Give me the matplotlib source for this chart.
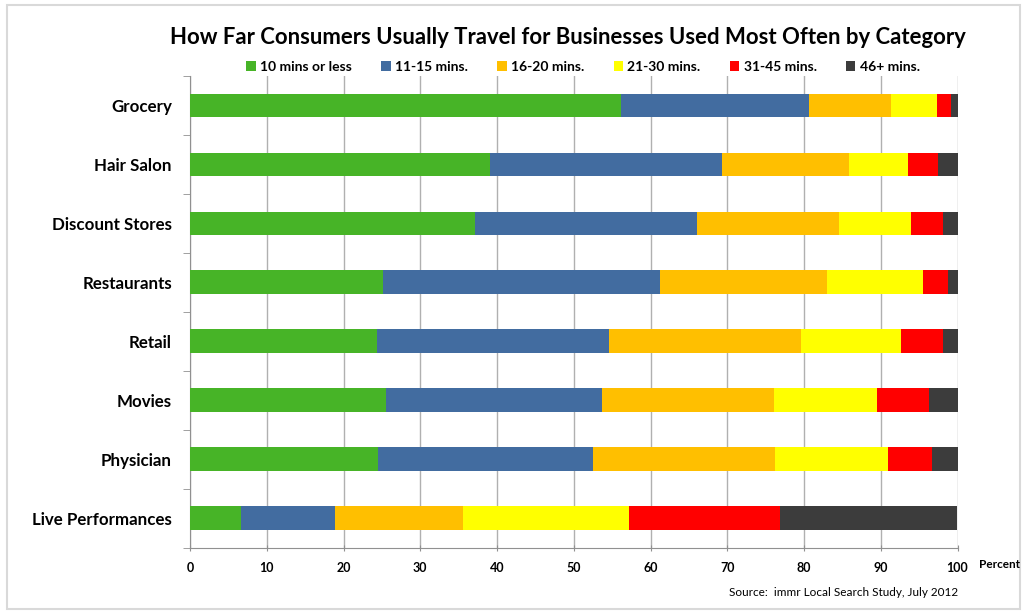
import matplotlib.pyplot as plt
from matplotlib.patches import Rectangle, Patch
import numpy as np

categories = ['Grocery', 'Hair Salon', 'Discount Stores', 'Restaurants',
              'Retail', 'Movies', 'Physician', 'Live Performances']
series_names = ['10 mins or less', '11-15 mins.', '16-20 mins.',
                '21-30 mins.', '31-45 mins.', '46+ mins.']
colors = ['#47b427', '#426ca0', '#ffbf00', '#ffff00', '#ff0000', '#3c3c3c']

mins_10 = [56.1, 39.1, 37.1, 25.1, 24.3, 25.6, 24.5, 6.6]
mins_15 = [24.5, 30.2, 28.9, 36.1, 30.3, 28.1, 28.0, 12.3]
mins_20 = [10.8, 16.5, 18.5, 21.8, 25.0, 22.4, 23.7, 16.7]
mins_30 = [5.9, 7.8, 9.5, 12.5, 13.1, 13.4, 14.8, 21.6]
mins_45 = [1.8, 3.9, 4.1, 3.2, 5.4, 6.8, 5.7, 19.7]
mins_46 = [0.9, 2.5, 1.9, 1.3, 1.9, 3.7, 3.3, 23.1]

all_series = [mins_10, mins_15, mins_20, mins_30, mins_45, mins_46]

W, H = 1024, 611
fig = plt.figure(figsize=(W / 100, H / 100), dpi=100)
plt.rcParams['font.family'] = ['Lato', 'DejaVu Sans']

# chart border
fig.patches.append(Rectangle((7 / W, 1 - 609 / H), (1020 - 7) / W, (609 - 5) / H,
                             transform=fig.transFigure, fill=False,
                             edgecolor='#d9d9d9', linewidth=1.5))

ax = fig.add_axes([190 / W, 1 - 547.5 / H, (957.5 - 190) / W, (547.5 - 76) / H])

y = np.arange(len(categories))
left = np.zeros(len(categories))
for vals, col, name in zip(all_series, colors, series_names):
    ax.barh(y, vals, left=left, height=0.4, color=col, label=name, zorder=3)
    left += np.array(vals)

ax.set_ylim(len(categories) - 0.5, -0.5)
ax.set_xlim(0, 100)
ax.set_xticks(range(0, 101, 10))
ax.xaxis.grid(True, color='#b0b0b0', linewidth=1, zorder=0)
ax.set_yticks(y)
ax.set_yticklabels(categories, fontsize=12.2, fontweight='bold')
ax.tick_params(axis='y', length=0, pad=13)
ax.set_yticks(np.arange(-0.5, len(categories), 1), minor=True)
ax.tick_params(axis='y', which='minor', length=5, color='#909090')
ax.tick_params(axis='x', length=5, direction='inout', color='#909090',
               labelsize=9, pad=8)
for lab in ax.get_xticklabels():
    lab.set_fontweight('bold')

for s in ['top', 'right']:
    ax.spines[s].set_visible(False)
for s in ['left', 'bottom']:
    ax.spines[s].set_color('#909090')

fig.text(568 / W, 1 - 38 / H,
         'How Far Consumers Usually Travel for Businesses Used Most Often by Category',
         ha='center', va='center', fontsize=15.9, fontweight='bold')

handles = [Patch(facecolor=c) for c in colors]
fig.legend(handles, series_names, loc='center', bbox_to_anchor=(583 / W, 1 - 67 / H),
           ncol=6, frameon=False, handlelength=0.7, handleheight=0.7,
           handletextpad=0.3, columnspacing=2.1,
           prop={'size': 10, 'weight': 'bold'})

fig.text(979 / W, 1 - 565 / H, 'Percent', ha='left', va='center',
         fontsize=8.5, fontweight='bold')
fig.text(958 / W, 1 - 592 / H, 'Source:  immr Local Search Study, July 2012',
         ha='right', va='center', fontsize=8.5)

fig.savefig('out.png', dpi=100)
